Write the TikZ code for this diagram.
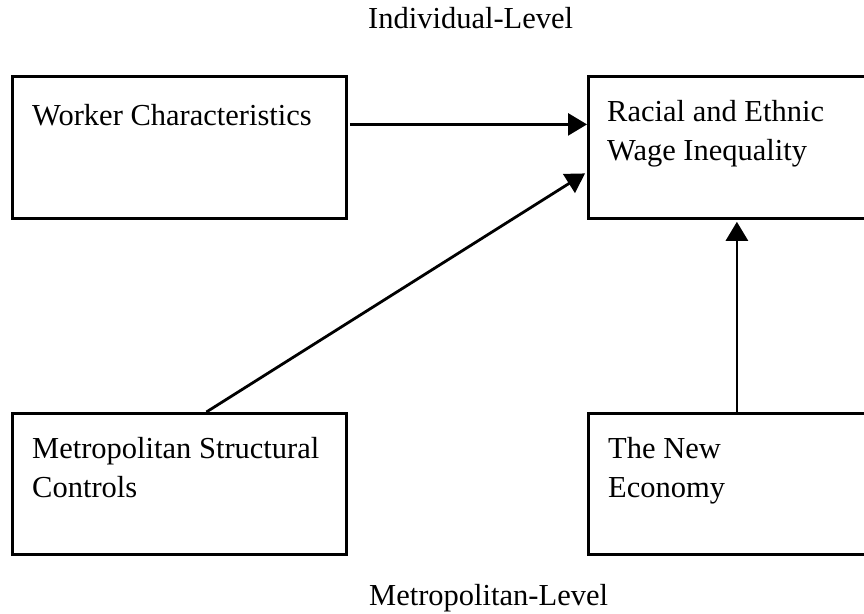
\documentclass[tikz,border=0pt]{standalone}
\usepackage{fontspec}
\setmainfont{Liberation Serif}
\usetikzlibrary{arrows.meta}
\begin{document}
\begin{tikzpicture}[x=1pt,y=-1pt,
  box/.style={draw=black,line width=2.8pt,rectangle,inner sep=0pt,anchor=north west},
  lbl/.style={anchor=base west,inner sep=0pt,align=left,font=\fontsize{30.5}{38.5}\selectfont},
  arr/.style={line width=2.8pt,-{Triangle[length=19pt,width=22pt]}}]
\useasboundingbox (0,0) rectangle (864,613);
\clip (0,0) rectangle (864,613);
% boxes
\node[box,minimum width=334pt,minimum height=142pt] (worker) at (11,75) {};
\node[box,minimum width=290pt,minimum height=142pt] (racial) at (587,75) {};
\node[box,minimum width=334pt,minimum height=141pt] (metro) at (11,412) {};
\node[box,minimum width=290pt,minimum height=141pt] (economy) at (587,412) {};
% box texts (base anchor sits on the last line)
\node[lbl] (tworker) at (32,125) {Worker Characteristics};
\node[lbl] (tracial) at (607,160) {Racial and Ethnic\\Wage Inequality};
\node[lbl] (tmetro) at (32,497) {Metropolitan Structural\\Controls};
\node[lbl] (teconomy) at (608,497) {The New\\Economy};
% level captions
\node[lbl] (tind) at (368,28) {Individual-Level};
\node[lbl] (tmet) at (369,605) {Metropolitan-Level};
% connectors
\draw[arr] ([yshift=23pt,xshift=2pt]worker.east) -- ([yshift=23pt]racial.west);
\draw[arr] ([xshift=27pt]metro.north) -- ([yshift=-26pt,xshift=-2pt]racial.west);
\draw[arr] ([xshift=3.5pt]economy.north) -- ([xshift=3.5pt,yshift=-2pt]racial.south);
\end{tikzpicture}
\end{document}
